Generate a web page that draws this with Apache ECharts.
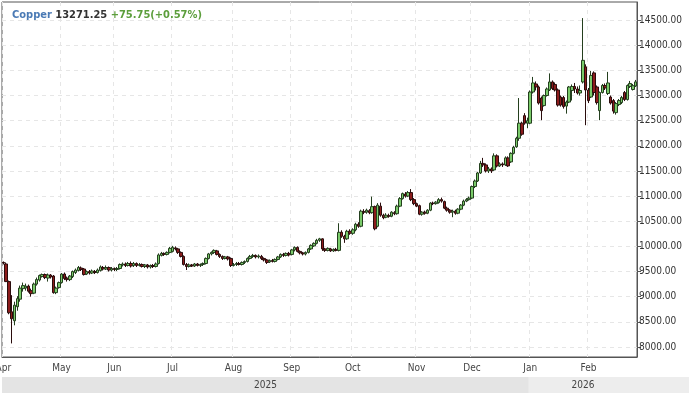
<!DOCTYPE html>
<html><head><meta charset="utf-8">
<script src="https://cdn.jsdelivr.net/npm/echarts@6/dist/echarts.min.js"></script>
<style>html,body{margin:0;padding:0;background:#fff;overflow:hidden}#c{width:691px;height:393px}</style>
</head><body><div id="c"></div><script>
// [open, close, low, high] per trading day
const apr2025 = [
[9680,9670,9640,9700],[9650,9300,9290,9680],[9300,8680,8650,9320],[8700,8560,8070,9030],[8520,8830,8430,8900],
[8800,8960,8720,9010],[8950,9170,8900,9220],[9160,9220,9100,9280],[9170,9210,9120,9260],[9210,9110,9080,9240],
[9120,9060,9000,9160],[9070,9250,9050,9280],[9250,9340,9220,9380],[9330,9420,9300,9440],[9400,9440,9380,9460],
[9440,9380,9350,9460],[9370,9430,9300,9460],[9430,9390,9360,9450],[9410,9080,9060,9430],[9080,9170,9050,9200],
[9180,9280,9160,9300]];
const may2025 = [
[9280,9450,9260,9470],[9450,9360,9330,9480],[9370,9340,9300,9400],[9340,9410,9310,9430],[9400,9500,9370,9520],
[9480,9530,9450,9560],[9520,9580,9500,9610],[9570,9540,9510,9600],[9550,9440,9420,9570],[9450,9500,9430,9520],
[9500,9470,9440,9530],[9470,9510,9450,9540],[9500,9480,9450,9530],[9480,9530,9460,9560],[9520,9590,9500,9620],
[9580,9550,9520,9610],[9550,9580,9530,9620],[9580,9530,9500,9600],[9530,9560,9500,9590]];
const jun2025 = [
[9560,9540,9510,9580],[9540,9560,9510,9590],[9560,9640,9540,9660],[9630,9650,9600,9680],[9650,9620,9590,9680],
[9620,9660,9600,9690],[9660,9610,9580,9700],[9620,9660,9590,9690],[9660,9620,9590,9680],[9620,9640,9600,9670],
[9640,9600,9580,9660],[9600,9630,9570,9650],[9630,9590,9560,9650],[9590,9620,9560,9640],[9620,9600,9570,9650],
[9600,9650,9580,9680],[9660,9830,9640,9860],[9820,9860,9800,9890],[9860,9840,9810,9880],[9840,9880,9820,9900],
[9880,9960,9860,9990]];
const jul2025 = [
[9900,9980,9880,10010],[9970,9950,9920,10000],[9950,9880,9850,9970],[9880,9800,9780,9900],[9800,9640,9620,9820],
[9640,9600,9530,9670],[9600,9630,9580,9660],[9630,9610,9590,9650],[9610,9650,9590,9670],[9650,9620,9600,9670],
[9620,9640,9590,9660],[9640,9660,9610,9680],[9660,9760,9640,9780],[9760,9850,9740,9870],[9850,9880,9820,9900],
[9880,9920,9850,9940],[9910,9840,9820,9930],[9840,9800,9770,9860],[9800,9760,9730,9820],[9760,9790,9740,9810],
[9790,9750,9720,9810],[9760,9620,9590,9780]];
const aug2025 = [
[9620,9640,9600,9670],[9640,9660,9610,9690],[9660,9640,9620,9690],[9640,9680,9620,9700],[9680,9700,9650,9720],
[9700,9760,9680,9780],[9760,9800,9740,9830],[9800,9820,9770,9850],[9820,9790,9760,9840],[9790,9810,9760,9840],
[9800,9760,9730,9830],[9760,9730,9700,9780],[9730,9680,9650,9750],[9690,9720,9670,9740],[9720,9700,9680,9750],
[9700,9740,9680,9760],[9740,9790,9720,9810],[9790,9840,9770,9860],[9840,9820,9790,9870],[9820,9860,9800,9880],
[9860,9830,9800,9890]];
const sep2025 = [
[9840,9930,9820,9950],[9930,9980,9900,10000],[9980,9900,9880,10000],[9900,9870,9840,9920],[9870,9850,9820,9890],
[9850,9880,9820,9900],[9880,9950,9860,9970],[9950,10020,9930,10040],[10010,10060,9990,10080],[10060,10120,10040,10150],
[10120,10150,10090,10170],[10150,9950,9910,10160],[9950,9920,9890,9970],[9920,9960,9900,9980],[9950,9910,9890,9970],
[9910,9940,9890,9960],[9940,9920,9900,9970],[9920,10280,9900,10460],[10280,10200,10170,10320],[10200,10150,10070,10230],
[10150,10300,10130,10330],[10300,10260,10230,10340]];
const oct2025 = [
[10260,10330,10230,10360],[10330,10440,10300,10470],[10440,10400,10370,10480],[10400,10700,10380,10730],[10690,10680,10640,10740],
[10680,10720,10650,10750],[10710,10670,10640,10740],[10670,10790,10650,10990],[10790,10350,10320,10810],[10400,10820,10380,10860],
[10800,10620,10590,10870],[10620,10570,10540,10650],[10580,10620,10560,10660],[10610,10600,10570,10650],[10600,10680,10580,10700],
[10670,10650,10620,10700],[10650,10800,10630,10830],[10800,10950,10780,10980],[10950,11050,10930,11070],[11040,11000,10970,11080],
[11000,11070,10980,11100],[11070,10930,10900,11140],[10930,10850,10820,10960]];
const nov2025 = [
[10850,10800,10780,10870],[10810,10640,10620,10830],[10640,10680,10610,10700],[10680,10660,10630,10710],[10660,10720,10640,10740],
[10720,10860,10700,10880],[10860,10850,10820,10890],[10850,10880,10830,10900],[10870,10930,10850,10960],[10930,10900,10870,10970],
[10890,10760,10740,10910],[10760,10720,10690,10790],[10720,10680,10650,10740],[10680,10700,10580,10730],[10700,10660,10630,10730],
[10660,10740,10640,10760],[10740,10820,10720,10840],[10820,10900,10800,10930],[10900,10930,10880,10960],[10930,10960,10910,10990]];
const dec2025 = [
[10960,11190,10940,11210],[11190,11300,11160,11330],[11300,11460,11280,11480],[11460,11650,11440,11700],[11650,11620,11580,11760],
[11620,11500,11470,11650],[11500,11540,11460,11580],[11540,11500,11460,11570],[11520,11800,11500,11850],[11800,11600,11570,11830],
[11600,11640,11580,11670],[11640,11620,11580,11670],[11620,11760,11600,11790],[11760,11600,11580,11790],[11680,11850,11660,11870],
[11850,11970,11830,12000],[11980,12150,11960,12180],[12150,12450,12100,12950],[12450,12230,12200,12480],[12600,12450,12420,12650],
[12450,12500,12350,12560]];
const jan2026 = [
[12450,13070,12430,13100],[13070,13250,13040,13370],[13230,13170,13100,13280],[13170,12850,12820,13200],[12950,12700,12510,12980],
[12800,13000,12780,13020],[13000,13130,12980,13160],[13110,13270,13090,13440],[13270,13140,13110,13300],[13220,13110,13080,13260],
[13110,12810,12780,13140],[12970,12810,12780,13000],[12960,12780,12740,12990],[12790,12870,12640,12900],[12870,13170,12850,13190],
[13100,13180,12900,13220],[13180,13130,13050,13250],[13130,13050,13020,13180],[13050,13100,13000,13200],[13270,13700,13240,14540],
[13570,13110,12410,13620]];
const feb2026 = [
[13110,12900,12850,13150],[12970,13400,12950,13490],[13450,13060,13000,13480],[13170,12860,12820,13200],[12700,13060,12510,13080],
[13060,13200,13040,13230],[13200,13150,13110,13240],[13040,13250,13010,13470],[12970,12850,12820,13000],[12900,12690,12640,12930],
[12660,12840,12620,12870],[12820,12900,12790,12930],[12860,12960,12830,12990],[13060,12920,12890,13090],[12920,13200,12900,13220],
[13180,13240,13150,13290],[13120,13195.5,13100,13230],[13190,13271.25,13170,13310]];

const monthBlocks = [
  [2025,3,'Apr',apr2025],[2025,4,'May',may2025],[2025,5,'Jun',jun2025],[2025,6,'Jul',jul2025],
  [2025,7,'Aug',aug2025],[2025,8,'Sep',sep2025],[2025,9,'Oct',oct2025],[2025,10,'Nov',nov2025],
  [2025,11,'Dec',dec2025],[2026,0,'Jan',jan2026],[2026,1,'Feb',feb2026]];
const yTickValues = [8000,8500,9000,9500,10000,10500,11000,11500,12000,12500,13000,13500,14000,14500];
const instrument = 'Copper';

function weekdays(y, m, n) {
  const out = []; let d = 1;
  while (out.length < n) {
    const dt = new Date(Date.UTC(y, m, d));
    const wd = dt.getUTCDay();
    if (wd !== 0 && wd !== 6) out.push(dt.toISOString().slice(0,10));
    d++;
  }
  return out;
}
const dates = [], ohlc = [], monthLabelAt = {}, yearOf = [];
monthBlocks.forEach(([y,m,name,rows]) => {
  monthLabelAt[dates.length] = name;
  weekdays(y,m,rows.length).forEach(s => { dates.push(s); yearOf.push(y); });
  rows.forEach(r => ohlc.push(r));
});
const isMonthStart = (i) => monthLabelAt[i] !== undefined;
const last = ohlc[ohlc.length-1][1], prev = ohlc[ohlc.length-2][1];
const chg = last - prev, pct = chg / prev * 100;
const FONT = '"DejaVu Sans Condensed","DejaVu Sans",sans-serif';

const chart = echarts.init(document.getElementById('c'), null, {renderer:'canvas'});
chart.setOption({
  animation: false,
  backgroundColor: '#ffffff',
  textStyle: {fontFamily: FONT},
  title: {
    left: 7, top: 5,
    text: '{a|' + instrument + '} {b|' + last.toFixed(2) + '} {c|' + (chg>=0?'+':'') + chg.toFixed(2) + '(' + (chg>=0?'+':'') + pct.toFixed(2) + '%)}',
    textStyle: {fontSize: 11, fontFamily: FONT, rich: {
      a: {color:'#4a7ab5', fontWeight:'bold', fontSize:11, fontFamily: FONT},
      b: {color:'#333333', fontWeight:'bold', fontSize:11, fontFamily: FONT},
      c: {color:'#5c9e3c', fontWeight:'bold', fontSize:11, fontFamily: FONT}
    }}
  },
  grid: {left: 2, right: 54, top: 2, bottom: 36, outerBoundsMode: 'none', containLabel: false,
    show: true, borderColor: '#555', borderWidth: 1, backgroundColor: '#fff'},
  xAxis: {
    type: 'category', data: dates, boundaryGap: true,
    axisLine: {lineStyle: {color: '#555'}},
    axisTick: {interval: (i) => isMonthStart(i), length: 4, lineStyle: {color: '#aaa'}},
    axisLabel: {interval: (i) => isMonthStart(i), formatter: (v, i) => monthLabelAt[i] || '', color: '#444', fontSize: 10, margin: 6, fontFamily: FONT, hideOverlap: false},
    splitLine: {show: true, interval: (i) => isMonthStart(i), lineStyle: {type: [4,4], color: '#e6e6e6'}}
  },
  yAxis: {
    type: 'value', position: 'right', min: 7800, max: 14860, scale: true,
    axisLine: {show: true, lineStyle: {color: '#555'}},
    axisTick: {show: true, length: 4, customValues: yTickValues, lineStyle: {color: '#555'}},
    axisLabel: {customValues: yTickValues, formatter: (v) => Number(v).toFixed(2), color: '#333', fontSize: 10, margin: 2, fontFamily: FONT},
    splitLine: {show: true, lineStyle: {type: [4,4], color: '#e6e6e6'}}
  },
  series: [{
    type: 'candlestick', data: ohlc, barWidth: 3,
    itemStyle: {color: '#7acb6a', color0: '#8c1c1c', borderColor: '#243f1e', borderColor0: '#2a0c0c', borderWidth: 1},
    markLine: {
      silent: true, symbol: ['none','none'], animation: false,
      lineStyle: {opacity: 0},
      data: [{yAxis: last}],
      label: {show: true, position: 'end', distance: 4, formatter: last.toFixed(2),
        backgroundColor: '#1e1e1e', color: '#fff', padding: [2,3,1,3], fontSize: 10, fontFamily: FONT}
    }
  }]
});

// year band under the month labels, positioned from the category axis
const p0 = chart.convertToPixel({xAxisIndex:0}, dates[0]);
const p1 = chart.convertToPixel({xAxisIndex:0}, dates[1]);
const bw = p1 - p0;
const janIdx = yearOf.indexOf(2026);
const janX = chart.convertToPixel({xAxisIndex:0}, dates[janIdx]) - bw/2;
const startX = p0 - bw/2;
const endX = chart.convertToPixel({xAxisIndex:0}, dates[dates.length-1]) + bw/2;
chart.setOption({graphic: [
  {type:'rect', shape:{x:startX, y:377, width:janX-startX, height:16}, style:{fill:'#e4e4e4'}, silent:true},
  {type:'rect', shape:{x:janX, y:377, width:689-janX, height:16}, style:{fill:'#ededed'}, silent:true},
  {type:'text', x:(startX+janX)/2, y:385, style:{text:'2025', fill:'#444', font:'10px ' + FONT, textAlign:'center', textVerticalAlign:'middle'}, silent:true},
  {type:'text', x:(janX+endX)/2, y:385, style:{text:'2026', fill:'#444', font:'10px ' + FONT, textAlign:'center', textVerticalAlign:'middle'}, silent:true}
]});
</script></body></html>
